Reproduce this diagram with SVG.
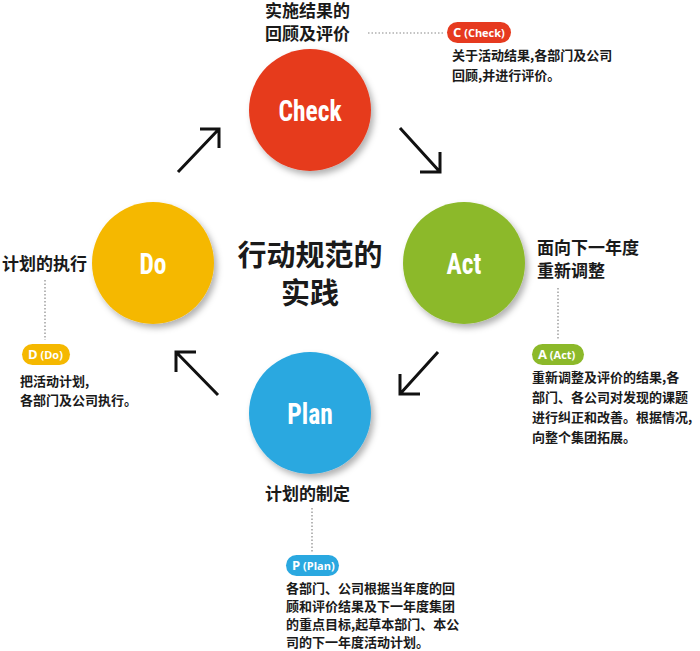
<svg xmlns="http://www.w3.org/2000/svg" width="700" height="651" viewBox="0 0 700 651">
<defs>
<filter id="sh" x="-20%" y="-20%" width="150%" height="150%"><feDropShadow dx="3" dy="4" stdDeviation="3" flood-color="#000" flood-opacity="0.3"/></filter>
</defs>
<style>
text{font-family:"Noto Sans CJK SC","Noto Sans",sans-serif;fill:#1a1a1a}
.t{font-size:17px;font-weight:700}
.b{font-size:13px;font-weight:700}
.c{font-family:"Liberation Sans Narrow","Roboto Condensed","Liberation Sans",sans-serif;font-size:30px;font-weight:700;fill:#fff;text-anchor:middle}
.p{font-family:"Open Sans",sans-serif;font-size:13px;font-weight:700;fill:#fff}
.d{stroke:#888;stroke-width:1.2;stroke-dasharray:1.5 2;fill:none}
.a{stroke:#111;stroke-width:3;fill:none}
</style>
<rect width="700" height="651" fill="#fff"/>
<g id="check"><circle cx="310" cy="110" r="61" fill="#e63a1f" filter="url(#sh)"/><text x="310" y="121" class="c" transform="translate(310 0) scale(0.85 1) translate(-310 0)">Check</text></g>
<g id="act"><circle cx="464" cy="263" r="61" fill="#8cb92a" filter="url(#sh)"/><text x="464" y="274" class="c" transform="translate(464 0) scale(0.85 1) translate(-464 0)">Act</text></g>
<g id="plan"><circle cx="310" cy="413" r="61" fill="#2aa8e0" filter="url(#sh)"/><text x="310" y="424" class="c" transform="translate(310 0) scale(0.85 1) translate(-310 0)">Plan</text></g>
<g id="do"><circle cx="153" cy="263" r="61" fill="#f5b800" filter="url(#sh)"/><text x="153" y="274" class="c" transform="translate(153 0) scale(0.85 1) translate(-153 0)">Do</text></g>
<g id="center"><text x="310" y="266" text-anchor="middle" style="font-size:29px;font-weight:700">行动规范的</text><text x="310" y="304" text-anchor="middle" style="font-size:29px;font-weight:700">实践</text></g>
<g id="connectors">
<path class="a" d="M178 172 L218 130 M200 129 H219 V148"/>
<path class="a" d="M400 128 L440 172 M440 152 V172 H420"/>
<path class="a" d="M438 352 L400 394 M400 374 V394 H420"/>
<path class="a" d="M218 395 L176 352 M176 372 V352 H196"/>
<path class="d" d="M368 33 H445"/>
<path class="d" d="M558 288 V340"/>
<path class="d" d="M45 280 V340"/>
<path class="d" d="M312 508 V552"/>
</g>
<g id="note-check">
<text x="265" y="17" class="t" font-size="16">实施结果的</text><text x="265" y="40" class="t" font-size="16">回顾及评价</text>
<rect x="447" y="22" width="64" height="21" rx="10.5" fill="#e63a1f"/><text x="453" y="37" class="p">C<tspan font-size="11"> (Check)</tspan></text>
<text x="452" y="60" class="b">关于活动结果,各部门及公司</text><text x="452" y="80" class="b">回顾,并进行评价。</text>
</g>
<g id="note-act">
<text x="537" y="254" class="t">面向下一年度</text><text x="537" y="277" class="t">重新调整</text>
<rect x="532" y="344" width="52" height="21" rx="10.5" fill="#8cb92a"/><text x="538" y="359" class="p">A<tspan font-size="11"> (Act)</tspan></text>
<text x="532" y="382" class="b">重新调整及评价的结果,各</text><text x="532" y="402" class="b">部门、各公司对发现的课题</text><text x="532" y="422" class="b">进行纠正和改善。根据情况,</text><text x="532" y="442" class="b">向整个集团拓展。</text>
</g>
<g id="note-do">
<text x="2" y="270" class="t">计划的执行</text>
<rect x="22" y="344" width="48" height="21" rx="10.5" fill="#f5b800"/><text x="28" y="359" class="p">D<tspan font-size="11"> (Do)</tspan></text>
<text x="20" y="386" class="b">把活动计划,</text><text x="20" y="405" class="b">各部门及公司执行。</text>
</g>
<g id="note-plan">
<text x="265" y="500" class="t">计划的制定</text>
<rect x="286" y="555" width="53" height="21" rx="10.5" fill="#2aa8e0"/><text x="292" y="570" class="p">P<tspan font-size="11"> (Plan)</tspan></text>
<text x="286" y="593" class="b" font-size="12.5">各部门、公司根据当年度的回</text><text x="286" y="611" class="b" font-size="12.5">顾和评价结果及下一年度集团</text><text x="286" y="629" class="b" font-size="12.5">的重点目标,起草本部门、本公</text><text x="286" y="647" class="b" font-size="12.5">司的下一年度活动计划。</text>
</g>
</svg>
